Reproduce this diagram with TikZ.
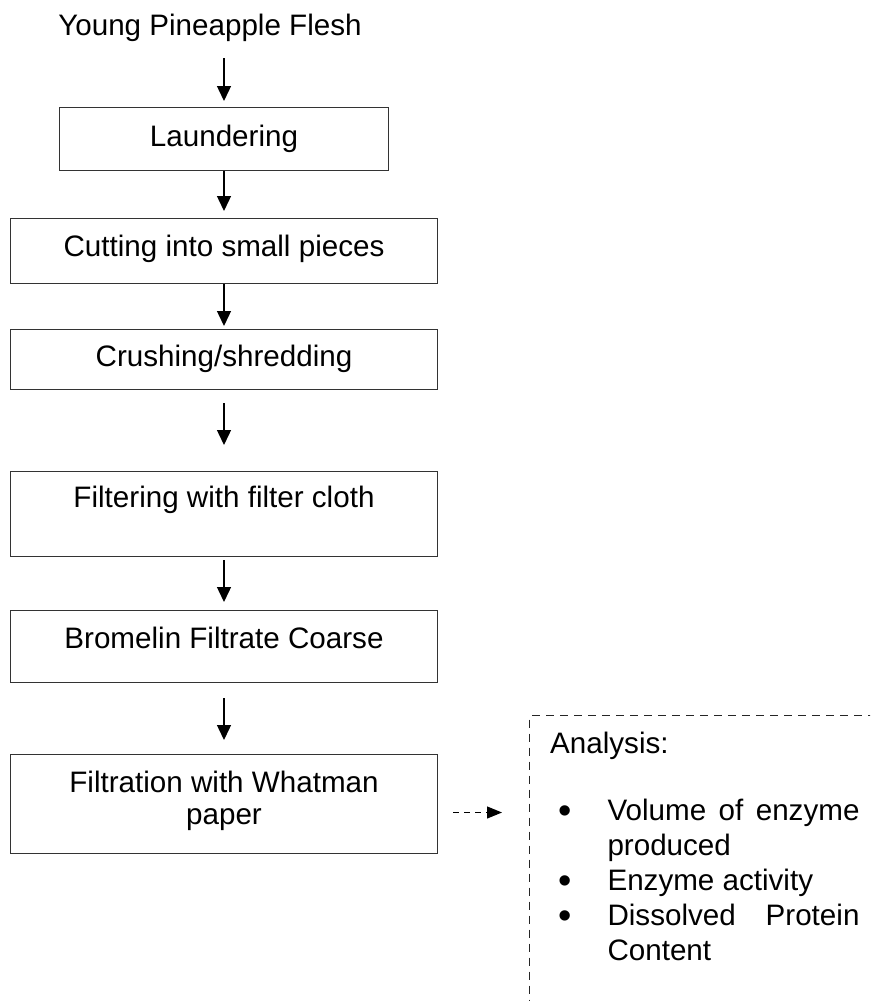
\documentclass[tikz,border=0pt]{standalone}
\usepackage{fontspec}
\setmainfont{Liberation Sans}
\usetikzlibrary{arrows.meta}
\tikzset{
  stepbox/.style={draw=black!80, line width=1pt, inner sep=0pt, anchor=north, align=center},
  flowarrow/.style={line width=1.4pt, -{Triangle[length=15pt,width=14pt]}},
  dasharrow/.style={line width=1.2pt, dash pattern=on 6pt off 5pt, -{Triangle[length=15pt,width=12pt]}},
  dashbox/.style={draw=black!85, line width=1pt, dash pattern=on 8pt off 6pt, inner sep=0pt, anchor=north west},
  plain/.style={inner sep=0pt}
}
\newcommand{\bigbul}{\raisebox{-3pt}{\fontsize{38}{35}\selectfont\textbullet}}
\newcommand{\bitem}[1]{\makebox[57.3pt][l]{\hspace{8pt}\bigbul}#1}
\begin{document}
\begin{tikzpicture}[x=1pt,y=-1pt,font=\fontsize{29.6}{35}\selectfont]
\path[use as bounding box, fill=white] (0,0) rectangle (870,1001);
\clip (0,0) rectangle (870,1001);

\node[plain, anchor=base, text depth=0pt] (title) at (210,35) {Young Pineapple Flesh};

\node[stepbox, minimum width=329pt, text height=39pt, text depth=24pt] (launder) at (224,107) {Laundering};
\node[stepbox, minimum width=427pt, text height=38pt, text depth=27pt] (cut) at (224,218) {Cutting into small pieces};
\node[stepbox, minimum width=427pt, text height=37pt, text depth=23pt] (crush) at (224,329) {Crushing/shredding};
\node[stepbox, minimum width=427pt, text height=36pt, text depth=49pt] (filter) at (224,471) {Filtering with filter cloth};
\node[stepbox, minimum width=427pt, text height=38pt, text depth=34pt] (brom) at (224,610) {Bromelin Filtrate Coarse};
\node[stepbox, minimum width=427pt, text height=38pt, text depth=61pt] (what) at (224,754)
  {\renewcommand\arraystretch{0.9}\begin{tabular}[t]{@{}c@{}}Filtration with Whatman\\ paper\end{tabular}};

\draw[flowarrow, shorten <=23pt, shorten >=6pt] (title.south -| launder.north) -- (launder.north);
\draw[flowarrow, shorten <=0pt, shorten >=7pt] (launder.south) -- (launder.south |- cut.north);
\draw[flowarrow, shorten <=0pt, shorten >=3pt] (cut.south) -- (crush.north);
\draw[flowarrow, shorten <=13pt, shorten >=26pt] (crush.south) -- (filter.north);
\draw[flowarrow, shorten <=3pt, shorten >=8pt] (filter.south) -- (brom.north);
\draw[flowarrow, shorten <=15pt, shorten >=14pt] (brom.south) -- (what.north);

\node[dashbox, minimum width=420pt, minimum height=360pt] (analysis) at (529,715) {};

\node[plain, anchor=base west] (analysistext) at (550,753) {\parbox[t]{315pt}{%
Analysis:\\[32pt]
\bitem{\makebox[252pt][s]{Volume\hfill of\hfill enzyme}}\\
\hspace*{57.3pt}produced\\
\bitem{Enzyme activity}\\
\bitem{\makebox[252pt][s]{Dissolved\hfill Protein}}\\
\hspace*{57.3pt}Content}};

\coordinate (dashy) at ([yshift=-8.5pt]what.east);
\draw[dasharrow, shorten <=15pt, shorten >=27pt] (dashy) -- (dashy -| analysis.west);
\end{tikzpicture}
\end{document}
